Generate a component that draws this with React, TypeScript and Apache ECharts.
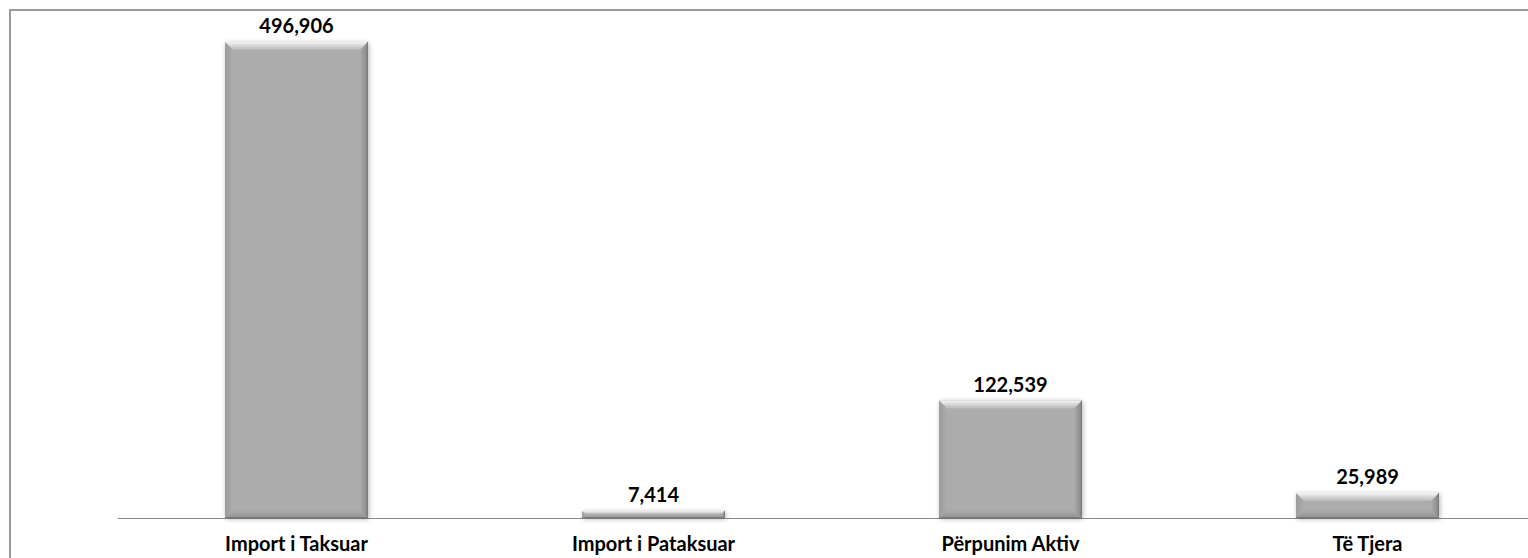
import React, { useEffect, useRef } from "react";
import * as echarts from "echarts";

const categories = ["Import i Taksuar", "Import i Pataksuar", "Përpunim Aktiv", "Të Tjera"];
const values = [496906, 7414, 122539, 25989];
const valueLabels = ["496,906", "7,414", "122,539", "25,989"];

const FONT = "Lato, 'Open Sans', sans-serif";
const BASE = "#acacac";

export default function App() {
  const ref = useRef<HTMLDivElement>(null);
  useEffect(() => {
    if (!ref.current) return;
    const chart = echarts.init(ref.current, undefined, { renderer: "svg" });
    const grad = (x0: number, y0: number, x1: number, y1: number, c0: string, c1: string) =>
      new echarts.graphic.LinearGradient(x0, y0, x1, y1, [
        { offset: 0, color: c0 },
        { offset: 1, color: c1 },
      ]);
    const renderItem = (params: any, api: any) => {
      const idx = api.value(0);
      const val = api.value(1);
      const top = api.coord([idx, val]);
      const base = api.coord([idx, 0]);
      const w = api.size([1, 0])[0] * 0.4;
      const x0 = top[0] - w / 2;
      const x1 = top[0] + w / 2;
      const y0 = top[1];
      const y1 = base[1];
      const h = y1 - y0;
      const b = Math.min(8, h / 2.2);
      const children: any[] = [
        {
          type: "rect",
          shape: { x: x0, y: y0, width: w, height: h },
          style: { fill: BASE, shadowBlur: 5, shadowColor: "rgba(0,0,0,0.3)", shadowOffsetX: 1, shadowOffsetY: 1 },
        },
        {
          type: "polygon",
          shape: { points: [[x0, y1], [x0 + b, y1 - b], [x1 - b, y1 - b], [x1, y1]] },
          style: { fill: grad(0, 0, 0, 1, BASE, "#939393") },
        },
        {
          type: "polygon",
          shape: { points: [[x0, y0], [x0 + b, y0 + b], [x0 + b, y1 - b], [x0, y1]] },
          style: { fill: grad(0, 0, 1, 0, "#9c9c9c", BASE) },
        },
        {
          type: "polygon",
          shape: { points: [[x1, y0], [x1, y1], [x1 - b, y1 - b], [x1 - b, y0 + b]] },
          style: { fill: grad(0, 0, 1, 0, BASE, "#858585") },
        },
        {
          type: "polygon",
          shape: { points: [[x0, y0], [x1, y0], [x1 - b, y0 + b], [x0 + b, y0 + b]] },
          style: { fill: grad(0, 0, 0, 1, "#f4f4f4", "#b6b6b6") },
        },
        {
          type: "polyline",
          shape: { points: [[x1 - 0.5, y0], [x1 - 0.5, y1 - 0.5], [x0, y1 - 0.5]] },
          style: { stroke: "#7a7a7a", lineWidth: 1, fill: "none" },
        },
        {
          type: "text",
          style: {
            x: top[0],
            y: y0 - 7,
            text: valueLabels[idx],
            fill: "#000",
            font: `bold 20px ${FONT}`,
            align: "center",
            verticalAlign: "bottom",
          },
        },
      ];
      return { type: "group", children };
    };
    chart.setOption({
      animation: false,
      grid: { left: 107, top: 28, width: 1428, height: 479 },
      xAxis: {
        type: "category",
        data: categories,
        axisLine: { lineStyle: { color: "#8c8c8c", width: 1 } },
        axisTick: { show: false },
        axisLabel: { color: "#000", fontWeight: "bold", fontSize: 20, fontFamily: FONT, margin: 15 },
      },
      yAxis: { type: "value", min: 0, max: 500000, show: false, splitLine: { show: false } },
      series: [
        {
          type: "custom",
          renderItem,
          data: values.map((v, i) => [i, v]),
          encode: { x: 0, y: 1 },
        },
      ],
    });
    return () => chart.dispose();
  }, []);
  return (
    <div style={{ position: "fixed", left: 0, top: 0, width: 1528, height: 558, overflow: "hidden", background: "#fff" }}>
      <div
        style={{
          position: "absolute",
          left: 9,
          top: 9,
          width: 1580,
          height: 620,
          borderLeft: "2px solid #9a9a9a",
          borderTop: "2px solid #9a9a9a",
        }}
      >
        <div ref={ref} style={{ width: 1580, height: 620 }} />
      </div>
    </div>
  );
}
